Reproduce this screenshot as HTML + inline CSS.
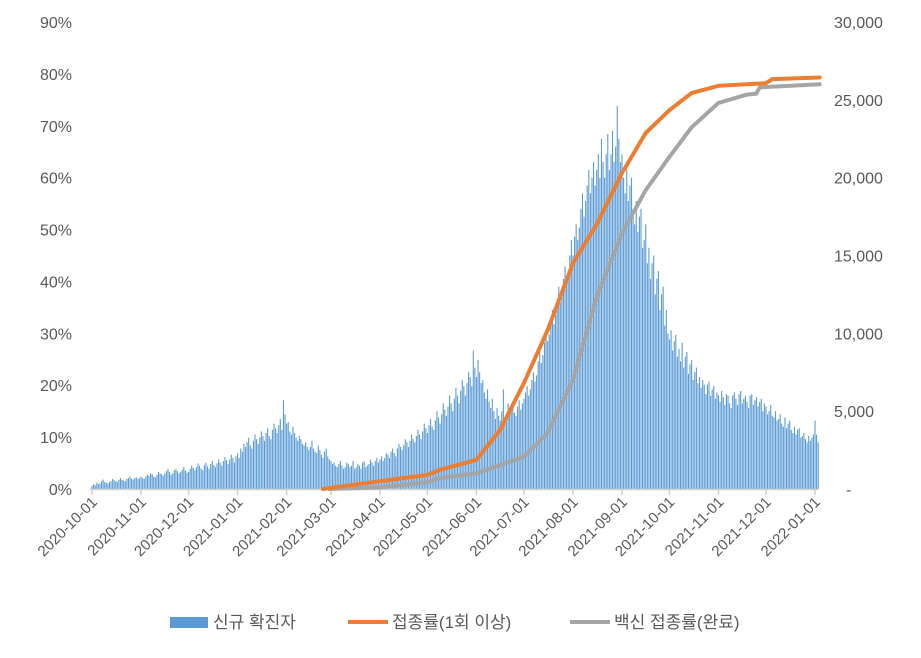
<!DOCTYPE html>
<html><head><meta charset="utf-8"><style>
body{margin:0;background:#fff;font-family:"Liberation Sans","Noto Sans CJK KR",sans-serif;}
svg text{font-family:"Liberation Sans","Noto Sans CJK KR",sans-serif;fill:#595959;}
</style></head><body>
<svg id="chart" width="921" height="653" viewBox="0 0 921 653"></svg>
<script>
const startDate = "2020-10-01";
const monthLabels = ["2020-10-01","2020-11-01","2020-12-01","2021-01-01","2021-02-01","2021-03-01","2021-04-01","2021-05-01","2021-06-01","2021-07-01","2021-08-01","2021-09-01","2021-10-01","2021-11-01","2021-12-01","2022-01-01"];
const leftTicks = ["0%","10%","20%","30%","40%","50%","60%","70%","80%","90%"];
const leftTickValues = [0,10,20,30,40,50,60,70,80,90];
const rightTicks = ["-","5,000","10,000","15,000","20,000","25,000","30,000"];
const rightTickValues = [0,5000,10000,15000,20000,25000,30000];
const newCases = [
200,300,250,400,300,350,500,600,450,400,350,450,500,650,550,500,450,600,700,600,550,500,650,700,800,650,600,700,750,650,700,
800,700,650,800,900,850,1000,950,800,750,900,1100,1000,950,850,1000,1150,1300,1100,900,1000,1200,1300,1150,1000,1100,1250,1400,1200,1050,
1100,1300,1500,1350,1200,1400,1650,1500,1300,1200,1550,1700,1450,1300,1600,1800,1550,1400,1650,1900,1700,1500,1800,2050,1850,1600,1900,2200,2000,1700,2100,
2300,2000,2600,2400,2900,2700,3000,3300,2800,2600,3100,3500,3200,2900,3300,3700,3400,3100,3600,3900,3400,3200,3800,4200,3900,3600,4100,4500,3800,5700,4800,
4200,4300,3700,3500,4000,3600,3300,3100,3400,3200,2900,2800,3000,2700,2500,2700,3100,2600,2400,2300,2800,2500,2200,2000,2400,2600,2100,1900,
1800,1600,1700,1500,1400,1600,1800,1500,1300,1400,1700,1600,1400,1500,1800,1300,1400,1600,1500,1300,1700,1800,1400,1500,1600,1900,1700,1500,1800,2000,1700,
1900,2100,1800,2000,2300,2200,2000,2400,2600,2300,2100,2600,2900,2700,2500,2800,3200,3000,2700,3100,3500,3200,3000,3400,3800,3500,3200,3700,4200,3900,
3600,4100,4500,4000,3800,4400,5000,4600,4200,4800,5500,5100,4700,5300,6000,5500,5000,5800,6500,6000,5500,6300,7000,6600,6000,6800,7500,7200,6600,8900,7800,
7200,8300,7500,6800,7000,6200,5800,6400,5600,5200,5800,5000,4500,5200,4700,4400,5000,6400,4600,4300,5500,4800,5000,5600,4900,4700,5300,5700,5100,5500,
5800,6200,6600,6000,6400,7000,7500,6900,7300,8200,8800,8100,8600,9400,10200,9500,9900,10800,11500,10600,11200,12200,13000,12000,12600,13500,14300,13300,14000,15000,16000,
15000,16200,17000,16000,16800,18000,19000,17500,18500,19500,20500,19000,20000,21000,19500,20500,21500,20000,22500,21000,20000,21500,22800,20500,21500,23000,21000,22000,24600,22500,21000,
21500,20000,19000,20500,18500,19500,20000,18000,17000,18500,16500,17500,18000,15500,16000,17000,14500,15500,13500,14500,15000,12500,13500,14000,11500,12500,13000,10500,11500,10000,
9600,10200,8900,9500,9900,8500,9000,8200,9400,7800,8500,8800,7400,8000,8300,7000,7500,7800,6800,7200,6500,7000,6700,6100,6700,6900,6000,6400,6600,5800,6200,
6000,5600,6300,5900,5400,6100,6000,5500,5200,6000,6200,5800,5400,6100,6300,5500,5800,6000,5600,5200,6000,6100,5400,5700,5900,5300,5600,5800,5000,5500,
5300,4800,5000,5400,4700,4600,5000,4400,4500,4800,4200,4000,4600,3900,4200,4400,3800,3600,4000,3500,3800,3900,3300,3400,3600,3200,3000,3400,3100,3300,3500,
4400,3500,3000];
const firstDoseDays = [146,182,212,220,243,258,273,288,304,319,335,350,365,379,396,426,430,460];
const firstDosePct  = [0,1.5,2.7,3.7,5.6,11.4,20.4,30.6,43.5,51,60.9,68.6,73,76.3,77.7,78.2,79,79.3];
const fullDoseDays = [150,182,212,220,243,273,288,304,319,335,350,365,379,396,414,420,422,460];
const fullDosePct  = [0,0.3,1.3,2.1,3,6.2,10.8,21,37,49.3,57.6,64,69.7,74.4,76,76.2,77.4,78];

const NS="http://www.w3.org/2000/svg";
const svg=document.getElementById('chart');
const X0=92, PXD=1.582, Y0=489, YT=22;
const xDay=d=>X0+d*PXD;
const yPct=p=>Y0-(Y0-YT)*p/90;
const yCases=c=>Y0-(Y0-YT)*c/30000;
const dayOf=s=>Math.round((new Date(s)-new Date(startDate))/86400000);
function mk(tag,attrs){const e=document.createElementNS(NS,tag);for(const k in attrs)e.setAttribute(k,attrs[k]);svg.appendChild(e);return e;}

leftTickValues.forEach((v,i)=>{
  const t=mk('text',{x:72,y:yPct(v)+6,'text-anchor':'end','font-size':16});
  t.textContent=leftTicks[i];
  
  
});
rightTickValues.forEach((v,i)=>{
  const t=mk('text',{x:v===0?846:834,y:yCases(v)+6,'text-anchor':'start','font-size':16});
  t.textContent=rightTicks[i];
  
  
});
newCases.forEach((c,d)=>{
  const r=mk('rect',{x:xDay(d)-0.5,y:yCases(c),width:1.1,height:Y0-yCases(c),fill:'#5b9bd5'});
  
  
});
const ax=mk('line',{x1:X0-2,x2:818,y1:Y0+0.5,y2:Y0+0.5,stroke:'#d0d0d0','stroke-width':1.5});


monthLabels.forEach(s=>{
  const x=xDay(dayOf(s));
  const tk=mk('line',{x1:x,x2:x,y1:Y0,y2:Y0+6,stroke:'#d0d0d0','stroke-width':1.5});
  
  
  const t=mk('text',{x:x+6,y:Y0+14,'text-anchor':'end','font-size':15,transform:`rotate(-45 ${x+6} ${Y0+14})`});
  t.textContent=s;
  
  
});
function line(days,vals,color,name){
  const pts=days.map((d,i)=>xDay(d).toFixed(1)+','+yPct(vals[i]).toFixed(1)).join(' ');
  const p=mk('polyline',{points:pts,fill:'none',stroke:color,'stroke-width':4,'stroke-linejoin':'round','stroke-linecap':'round'});
  
  
}
line(fullDoseDays,fullDosePct,'#a5a5a5','full-vaccination-line');
line(firstDoseDays,firstDosePct,'#ed7d31','first-dose-line');

const lg=[[170,'rect','#5b9bd5','신규 확진자','legend-new-cases'],[348,'line','#ed7d31','접종률(1회 이상)','legend-first-dose'],[570,'line','#a5a5a5','백신 접종률(완료)','legend-full-vaccination']];
lg.forEach(([x,k,c,txt,n])=>{
  let m;
  if(k==='rect') m=mk('rect',{x:x,y:617,width:38,height:11,fill:c});
  else m=mk('line',{x1:x,x2:x+40,y1:622,y2:622,stroke:c,'stroke-width':4});
  
  
  const t=mk('text',{x:x+(k==='rect'?43:44),y:628,'font-size':17});
  t.textContent=txt;
  
  
});
</script>
</body></html>
